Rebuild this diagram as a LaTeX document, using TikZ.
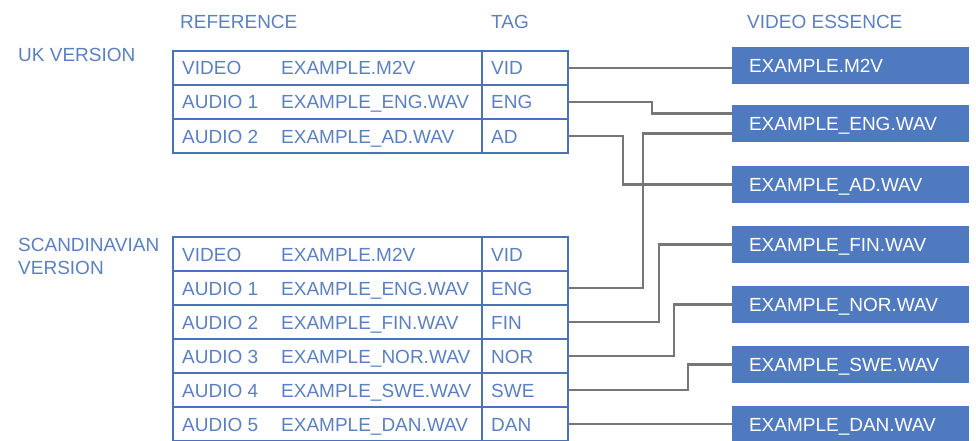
\documentclass[tikz,border=0pt]{standalone}
\usepackage{fontspec}
\setmainfont{Liberation Sans}
\definecolor{lbl}{HTML}{5B80C2}
\definecolor{tbl}{HTML}{4A72B8}
\definecolor{boxc}{HTML}{4F7AC0}
\definecolor{wire}{HTML}{767676}
\begin{document}
\begin{tikzpicture}[x=1pt,y=-1pt,
  fnt/.style={font=\fontsize{19}{23}\selectfont},
  txt/.style={fnt, text=lbl, inner sep=0pt, anchor=base west},
  cellL/.style={draw=tbl, line width=2pt, minimum width=309pt, minimum height=34pt, inner sep=0pt, outer sep=0pt, anchor=north west},
  cellT/.style={draw=tbl, line width=2pt, minimum width=86pt, minimum height=34pt, inner sep=0pt, outer sep=0pt, anchor=north west},
  ess/.style={fnt, fill=boxc, text=white, minimum height=37pt, text width=203pt, inner xsep=17pt, inner ysep=0pt, outer sep=0pt, text height=13.6pt, text depth=0pt, align=left, anchor=north west},
  conn/.style={draw=wire, line width=2.5pt}]
\useasboundingbox (0,0) rectangle (976,441);
% headings
\node[txt] (hRef) at (180,29) {REFERENCE};
\node[txt] (hTag) at (491,29) {TAG};
\node[txt] (hEss) at (747,29) {VIDEO ESSENCE};
\node[txt] (hUK) at (18,62) {UK VERSION};
\node[txt] (hSc1) at (18,251) {SCANDINAVIAN};
\node[txt] (hSc2) at (18,274) {VERSION};
% UK table
\foreach \i/\k/\f/\g in {1/VIDEO/EXAMPLE.M2V/VID, 2/AUDIO 1/EXAMPLE\_ENG.WAV/ENG, 3/AUDIO 2/EXAMPLE\_AD.WAV/AD}{
  \node[cellL] (ukL\i) at (173,{51+34*(\i-1)}) {};
  \node[cellT] (ukT\i) at (482,{51+34*(\i-1)}) {};
  \node[txt] (ukK\i) at (182,{75+34*(\i-1)}) {\k};
  \node[txt] (ukF\i) at (281,{75+34*(\i-1)}) {\f};
  \node[txt] (ukG\i) at (491,{75+34*(\i-1)}) {\g};
}
% Scandinavian table
\foreach \i/\k/\f/\g in {1/VIDEO/EXAMPLE.M2V/VID, 2/AUDIO 1/EXAMPLE\_ENG.WAV/ENG, 3/AUDIO 2/EXAMPLE\_FIN.WAV/FIN, 4/AUDIO 3/EXAMPLE\_NOR.WAV/NOR, 5/AUDIO 4/EXAMPLE\_SWE.WAV/SWE, 6/AUDIO 5/EXAMPLE\_DAN.WAV/DAN}{
  \node[cellL] (scL\i) at (173,{237+34*(\i-1)}) {};
  \node[cellT] (scT\i) at (482,{237+34*(\i-1)}) {};
  \node[txt] (scK\i) at (182,{261+34*(\i-1)}) {\k};
  \node[txt] (scF\i) at (281,{261+34*(\i-1)}) {\f};
  \node[txt] (scG\i) at (491,{261+34*(\i-1)}) {\g};
}
% essence boxes
\node[ess] (b1) at (732,47) {EXAMPLE.M2V};
\node[ess] (b2) at (732,105) {EXAMPLE\_ENG.WAV};
\node[ess] (b3) at (732,166) {EXAMPLE\_AD.WAV};
\node[ess] (b4) at (732,226) {EXAMPLE\_FIN.WAV};
\node[ess] (b5) at (732,286) {EXAMPLE\_NOR.WAV};
\node[ess] (b6) at (732,346) {EXAMPLE\_SWE.WAV};
\node[ess] (b7) at (732,406) {EXAMPLE\_DAN.WAV};
% connectors
\draw[conn] (ukT1.east) -- (ukT1.east -| b1.west);
\draw[conn] (ukT2.east) -- ++(84,0) |- ([yshift=10pt]b2.west);
\draw[conn] (ukT3.east) -- ++(55,0) |- (b3.west);
\draw[conn] (scT2.east) -- ++(75,0) |- ([yshift=-10pt]b2.west);
\draw[conn] (scT3.east) -- ++(91,0) |- (b4.west);
\draw[conn] (scT4.east) -- ++(106,0) |- (b5.west);
\draw[conn] (scT5.east) -- ++(120,0) |- (b6.west);
\draw[conn] (scT6.east) -- (scT6.east -| b7.west);
\end{tikzpicture}
\end{document}
